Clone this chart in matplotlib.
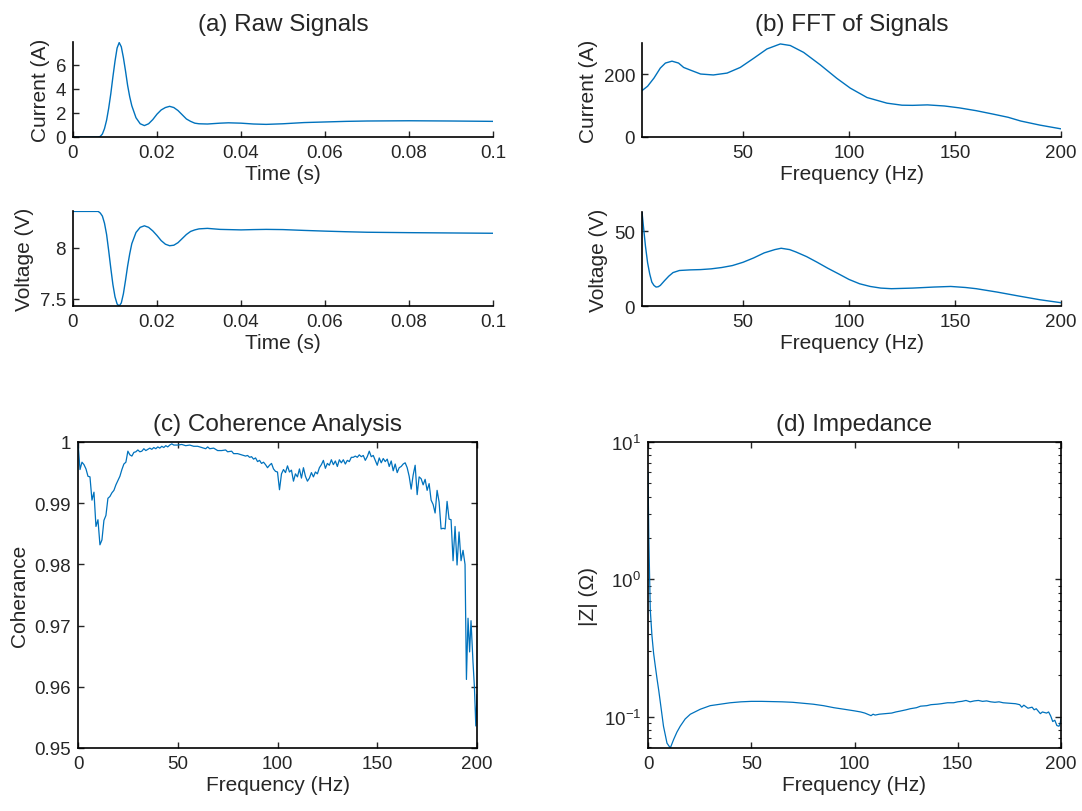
import numpy as np
import matplotlib
matplotlib.use("Agg")
import matplotlib.pyplot as plt
from matplotlib.ticker import LogLocator, NullFormatter

# --- values ---

# (a) raw signals
time_s = [0.0, 0.006, 0.0065, 0.007, 0.0075, 0.008, 0.0085, 0.009, 0.0095, 0.010,
          0.0105, 0.011, 0.0115, 0.012, 0.0125, 0.013, 0.0135, 0.014, 0.015, 0.016,
          0.017, 0.018, 0.019, 0.020, 0.021, 0.022, 0.023, 0.024, 0.025, 0.026,
          0.027, 0.028, 0.029, 0.030, 0.032, 0.035, 0.037, 0.040, 0.043, 0.046,
          0.050, 0.055, 0.060, 0.065, 0.070, 0.080, 0.090, 0.100]
current_a = [0.0, 0.0, 0.05, 0.25, 0.7, 1.4, 2.4, 3.6, 5.0, 6.3,
             7.4, 7.85, 7.5, 6.6, 5.5, 4.3, 3.35, 2.6, 1.6, 1.1,
             0.95, 1.1, 1.45, 1.9, 2.25, 2.45, 2.55, 2.45, 2.2, 1.85,
             1.5, 1.3, 1.15, 1.1, 1.08, 1.15, 1.18, 1.15, 1.08, 1.05,
             1.1, 1.2, 1.25, 1.3, 1.33, 1.35, 1.33, 1.3]
voltage_v = [8.356, 8.356, 8.34, 8.31, 8.24, 8.13, 7.97, 7.80, 7.64, 7.52,
             7.45, 7.43, 7.46, 7.55, 7.68, 7.82, 7.94, 8.04, 8.15, 8.20,
             8.215, 8.20, 8.165, 8.12, 8.07, 8.035, 8.02, 8.025, 8.05, 8.09,
             8.13, 8.16, 8.175, 8.185, 8.19, 8.18, 8.178, 8.175, 8.178, 8.18,
             8.178, 8.17, 8.163, 8.157, 8.152, 8.148, 8.145, 8.142]

# (b) FFT magnitudes
fft_freq_i = [2.36, 5, 8, 11, 13.4, 16.5, 19.6, 22, 25, 30, 36, 42.5, 48.7, 55,
              61.3, 67.6, 72.3, 78.6, 86.5, 94.3, 100.6, 108.5, 117.9, 125, 130,
              137, 145, 152, 160, 168, 175, 181, 190, 200]
fft_current = [148, 162, 188, 220, 236, 242, 236, 222, 214, 201, 198, 204, 222, 251,
               281, 297, 292, 270, 230, 187, 156, 126, 108, 101.5, 101, 102.5, 99,
               93, 84, 73, 63, 51, 38, 26]
fft_freq_v = [2.36, 3, 4, 5, 6, 7, 8, 9, 10, 11, 13, 15, 17, 20, 25, 30, 35, 40, 45,
              50, 55, 60, 65, 68, 72, 75, 80, 85, 90, 95, 100, 105, 110, 115, 120,
              130, 140, 148, 155, 160, 170, 180, 190, 200]
fft_voltage = [63, 53.8, 40, 29, 21.5, 16, 13.8, 12.7, 12.9, 13.8, 17, 20, 22.4, 23.8,
               24.2, 24.4, 24.9, 25.8, 27.1, 29.3, 32.2, 35.6, 37.8, 38.7, 37.8, 36.2,
               33.1, 29.3, 25.3, 21.6, 17.8, 14.9, 13.1, 12.0, 11.6, 12.0, 12.7, 13.1,
               12.4, 11.6, 9.3, 6.7, 4.2, 2.2]

# (c) coherence
coh_freq = [0, 1, 2, 3, 4, 5, 6, 7, 8, 9, 10, 11, 12, 13, 14, 15, 16, 17, 18, 19,
            20, 21, 22, 23, 24, 25, 26, 27, 28, 29, 30, 31, 32, 33, 34, 35, 36, 37,
            38, 39, 40, 41, 42, 43, 44, 45, 46, 47, 48, 50, 52, 54, 56, 58, 60, 62,
            64, 65, 66, 68, 70, 72, 74, 75, 77, 78, 80, 82, 84, 85, 86, 87, 88, 89,
            90, 91, 92, 93, 94, 95, 96, 97, 98, 99, 100, 101, 102, 103, 104, 105,
            106, 107, 108, 109, 110, 111, 112, 113, 114, 115, 116, 117, 118, 119,
            120, 121, 122, 123, 124, 125, 126, 127, 128, 129, 130, 131, 132, 133,
            134, 135, 136, 137, 138, 139, 140, 141, 142, 143, 144, 145, 146, 147,
            148, 149, 150, 151, 152, 153, 154, 155, 156, 157, 158, 159, 160, 161,
            162, 163, 164, 165, 166, 167, 168, 169, 170, 171, 172, 173, 174, 175,
            176, 177, 178, 179, 180, 181, 182, 183, 184, 185, 186, 187, 188, 189,
            190, 191, 192, 193, 194, 194.7, 195.5, 196.3, 197, 198, 198.7, 199.4, 200]
coherence = [1.0000, 0.9955, 0.9967, 0.9963, 0.9956, 0.9944, 0.9943, 0.9905, 0.9918,
             0.9862, 0.9873, 0.9832, 0.9840, 0.9872, 0.9880, 0.9908, 0.9911, 0.9917,
             0.9921, 0.9930, 0.9937, 0.9944, 0.9955, 0.9964, 0.9967, 0.9985, 0.9979,
             0.9977, 0.9983, 0.9984, 0.9987, 0.9984, 0.9985, 0.9989, 0.9986, 0.9988,
             0.9990, 0.9988, 0.9991, 0.9989, 0.9992, 0.9990, 0.9993, 0.9991, 0.9994,
             0.9992, 0.9995, 0.9997, 0.9995, 0.9995, 0.9996, 0.9994, 0.9995, 0.9993,
             0.9993, 0.9991, 0.9989, 0.9992, 0.9989, 0.9990, 0.9986, 0.9986, 0.9987,
             0.9984, 0.9985, 0.9981, 0.9981, 0.9979, 0.9977, 0.9978, 0.9975, 0.9976,
             0.9972, 0.9974, 0.9968, 0.9970, 0.9965, 0.9967, 0.9963, 0.9958, 0.9962,
             0.9965, 0.9956, 0.9952, 0.9951, 0.9922, 0.9948, 0.9955, 0.9950, 0.9961,
             0.9951, 0.9954, 0.9936, 0.9948, 0.9943, 0.9956, 0.9941, 0.9958, 0.9944,
             0.9936, 0.9941, 0.9950, 0.9943, 0.9951, 0.9948, 0.9958, 0.9963, 0.9970,
             0.9957, 0.9965, 0.9962, 0.9971, 0.9963, 0.9969, 0.9960, 0.9971, 0.9966,
             0.9971, 0.9964, 0.9970, 0.9968, 0.9975, 0.9975, 0.9977, 0.9975, 0.9979,
             0.9976, 0.9978, 0.9970, 0.9976, 0.9985, 0.9976, 0.9978, 0.9970, 0.9962,
             0.9974, 0.9966, 0.9973, 0.9968, 0.9972, 0.9960, 0.9969, 0.9953, 0.9964,
             0.9950, 0.9958, 0.9960, 0.9964, 0.9966, 0.9958, 0.9944, 0.9923, 0.9946,
             0.9962, 0.9914, 0.9943, 0.9940, 0.9930, 0.9939, 0.9921, 0.9932, 0.9905,
             0.9898, 0.9884, 0.9921, 0.9902, 0.9858, 0.9859, 0.9858, 0.9903, 0.9874,
             0.9873, 0.9806, 0.9862, 0.9799, 0.9853, 0.9806, 0.9823, 0.9800, 0.9612,
             0.9712, 0.9657, 0.9708, 0.9640, 0.9600, 0.9536, 0.9587]

# (d) impedance magnitude
imp_freq = [0, 0.4, 0.8, 1.1, 1.9, 2.7, 3.5, 4.4, 5.2, 6, 7.5, 9.2, 10.8, 12.4, 14,
            15.6, 18, 20.5, 25.3, 30.1, 35, 39.8, 45, 50, 55, 60, 65, 70, 75, 80, 85,
            90, 95, 100, 103, 105, 107, 108, 109, 110, 112, 115, 118, 120, 122, 125,
            127, 130, 132, 135, 137, 140, 142, 145, 148, 150, 152, 154, 156, 158, 160,
            162, 164, 166, 168, 170, 172, 175, 178, 180, 181, 182, 184, 186, 187, 188,
            190, 191, 193, 194, 195, 196, 197, 198, 199, 199.5, 200]
impedance = [6.0, 2.0, 1.0, 0.6, 0.39, 0.29, 0.235, 0.187, 0.155, 0.126, 0.085,
             0.064, 0.059, 0.068, 0.077, 0.085, 0.096, 0.104, 0.113, 0.120, 0.123,
             0.126, 0.128, 0.129, 0.129, 0.1285, 0.128, 0.127, 0.125, 0.123, 0.120,
             0.116, 0.113, 0.110, 0.108, 0.106, 0.103, 0.1015, 0.104, 0.1025, 0.104,
             0.105, 0.106, 0.108, 0.1095, 0.112, 0.114, 0.116, 0.119, 0.120, 0.122,
             0.123, 0.124, 0.126, 0.126, 0.128, 0.129, 0.131, 0.128, 0.130, 0.131,
             0.129, 0.130, 0.128, 0.127, 0.128, 0.126, 0.125, 0.124, 0.122, 0.117,
             0.121, 0.115, 0.117, 0.112, 0.114, 0.105, 0.108, 0.106, 0.108, 0.101,
             0.092, 0.094, 0.086, 0.085, 0.088, 0.096]

# --- styling (MATLAB-like) ---
LINE_C = '#0072BD'
AX_C = '#262626'
plt.rcParams['font.family'] = ['Liberation Sans', 'DejaVu Sans']
plt.rcParams['mathtext.default'] = 'regular'
plt.rcParams['text.color'] = AX_C
plt.rcParams['axes.labelcolor'] = AX_C
plt.rcParams['xtick.color'] = AX_C
plt.rcParams['ytick.color'] = AX_C
plt.rcParams['xtick.labelsize'] = 13.5
plt.rcParams['ytick.labelsize'] = 13.5
plt.rcParams['axes.labelsize'] = 15
plt.rcParams['axes.titlesize'] = 17.5
plt.rcParams['axes.linewidth'] = 1.2

W, H = 1082, 812
fig = plt.figure(figsize=(W / 100, H / 100), dpi=100)


def px_axes(left, top, right, bottom):
    return fig.add_axes([left / W, 1 - bottom / H, (right - left) / W, (bottom - top) / H])


def style(ax, box):
    for s in ['top', 'right']:
        ax.spines[s].set_visible(box)
    ax.tick_params(direction='in', length=4, width=1.0, top=box, right=box, pad=5)
    ax.tick_params(which='minor', direction='in', length=2.5, width=0.8, top=False, right=box)


def g(vals):
    return [f"{v:g}" for v in vals]


ax_ai = px_axes(73, 43, 493, 138)
ax_av = px_axes(73, 212, 493, 307)
ax_bi = px_axes(642, 44, 1061, 138)
ax_bv = px_axes(642, 213, 1061, 307)
ax_c = px_axes(78, 443, 477, 749)
ax_d = px_axes(648, 443, 1061, 749)

# (a) raw signals
ax_ai.plot(time_s, current_a, color=LINE_C, lw=1.0)
ax_ai.set_xlim(0, 0.1)
ax_ai.set_ylim(0, 7.9)
ax_ai.set_xticks(np.arange(0, 0.101, 0.02), g(np.round(np.arange(0, 0.101, 0.02), 2)))
ax_ai.set_yticks([0, 2, 4, 6])
ax_ai.set_xlabel('Time (s)', labelpad=2)
ax_ai.set_ylabel('Current (A)')
ax_ai.set_title('(a) Raw Signals', pad=9)
style(ax_ai, False)

ax_av.plot(time_s, voltage_v, color=LINE_C, lw=1.0)
ax_av.set_xlim(0, 0.1)
ax_av.set_ylim(7.43, 8.36)
ax_av.set_xticks(np.arange(0, 0.101, 0.02), g(np.round(np.arange(0, 0.101, 0.02), 2)))
ax_av.set_yticks([7.5, 8], ['7.5', '8'])
ax_av.set_xlabel('Time (s)', labelpad=2)
ax_av.set_ylabel('Voltage (V)')
style(ax_av, False)

# (b) FFT of signals
ax_bi.plot(fft_freq_i, fft_current, color=LINE_C, lw=1.0)
ax_bi.set_xlim(2.36, 200)
ax_bi.set_ylim(0, 300)
ax_bi.set_xticks([50, 100, 150, 200])
ax_bi.set_yticks([0, 200])
ax_bi.set_xlabel('Frequency (Hz)', labelpad=2)
ax_bi.set_ylabel('Current (A)')
ax_bi.set_title('(b) FFT of Signals', pad=9)
style(ax_bi, False)

ax_bv.plot(fft_freq_v, fft_voltage, color=LINE_C, lw=1.0)
ax_bv.set_xlim(2.36, 200)
ax_bv.set_ylim(0, 63)
ax_bv.set_xticks([50, 100, 150, 200])
ax_bv.set_yticks([0, 50])
ax_bv.set_xlabel('Frequency (Hz)', labelpad=2)
ax_bv.set_ylabel('Voltage (V)')
style(ax_bv, False)

# (c) coherence
ax_c.plot(coh_freq, coherence, color=LINE_C, lw=0.9)
ax_c.set_xlim(0, 200)
ax_c.set_ylim(0.95, 1.0)
ax_c.set_xticks([0, 50, 100, 150, 200])
cticks = [0.95, 0.96, 0.97, 0.98, 0.99, 1.0]
ax_c.set_yticks(cticks, g(cticks))
ax_c.set_xlabel('Frequency (Hz)', labelpad=2)
ax_c.set_ylabel('Coherance')
ax_c.set_title('(c) Coherence Analysis', pad=9)
style(ax_c, True)

# (d) impedance
ax_d.plot(imp_freq, impedance, color=LINE_C, lw=0.9)
ax_d.set_yscale('log')
ax_d.set_xlim(0, 200)
ax_d.set_ylim(0.059, 10)
ax_d.set_xticks([0, 50, 100, 150, 200])
ax_d.yaxis.set_major_locator(LogLocator(base=10, numticks=10))
ax_d.yaxis.set_minor_locator(LogLocator(base=10, subs=np.arange(2, 10), numticks=20))
ax_d.yaxis.set_minor_formatter(NullFormatter())
ax_d.set_xlabel('Frequency (Hz)', labelpad=2)
ax_d.set_ylabel('|Z| (Ω)')
ax_d.set_title('(d) Impedance', pad=9)
style(ax_d, True)

fig.savefig('out.png', dpi=100)
